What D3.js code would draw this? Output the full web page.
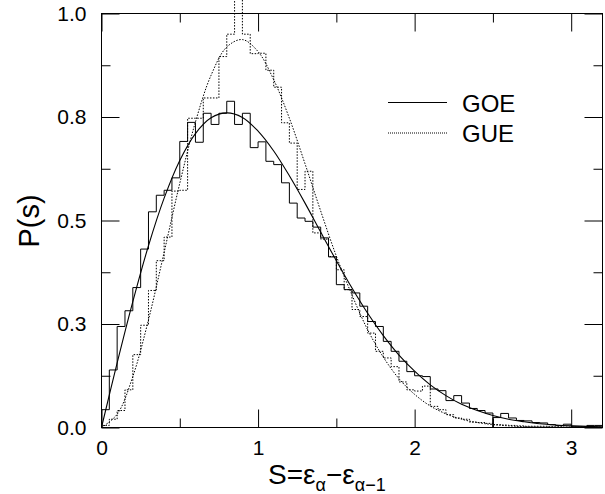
<!DOCTYPE html>
<html>
<head>
<meta charset="utf-8">
<script src="https://cdn.jsdelivr.net/npm/d3@7"></script>
<style>
  body { margin: 0; background: #fff; }
  svg { display: block; }
  text { font-family: 'Liberation Sans', Arial, Helvetica, sans-serif; fill: #000; }
</style>
</head>
<body>
<div id="chart"></div>
<script>
// histogram bins of width 0.05 from s = 0 to 3.2
var binWidth = 0.05;
var goeHist = [
  0.043, 0.139, 0.244, 0.282, 0.338, 0.431, 0.521, 0.561, 0.573, 0.603,
  0.691, 0.737, 0.689, 0.759, 0.732, 0.759, 0.788, 0.732, 0.759, 0.676,
  0.690, 0.643, 0.635, 0.591, 0.542, 0.506, 0.498, 0.484, 0.458, 0.412,
  0.345, 0.333, 0.325, 0.293, 0.256, 0.244, 0.208, 0.184, 0.160, 0.135,
  0.125, 0.123, 0.093, 0.089, 0.065, 0.077, 0.059, 0.046, 0.041, 0.035,
  0.024, 0.034, 0.023, 0.017, 0.016, 0.012, 0.011, 0.007, 0.005, 0.008,
  0.003, 0.003, 0.005, 0.005
];
var gueHist = [
  0.005, 0.020, 0.041, 0.091, 0.176, 0.247, 0.331, 0.403, 0.460, 0.571,
  0.573, 0.747, 0.747, 0.796, 0.796, 0.896, 0.950, 1.060, 0.950, 0.903,
  0.904, 0.863, 0.822, 0.736, 0.687, 0.575, 0.619, 0.470, 0.455, 0.413,
  0.381, 0.333, 0.285, 0.268, 0.228, 0.184, 0.168, 0.147, 0.110, 0.091,
  0.088, 0.100, 0.051, 0.043, 0.031, 0.023, 0.020, 0.013, 0.012, 0.010,
  0.007, 0.006, 0.005, 0.004, 0.003, 0.003, 0.003, 0.002, 0.002, 0.001,
  0.001, 0.001, 0.001, 0.001
];
// the GOE outline is drawn in two pieces, split at bin 50 (s = 2.5)
var goeBreaks = [0, 50, 64];
var gueBreaks = [0, 64];

// smooth curves
var curveS = [
  0, 0.1, 0.2, 0.3, 0.4, 0.5, 0.6, 0.7, 0.8, 0.9, 1.0, 1.1, 1.2, 1.3, 1.4, 1.5, 1.6,
  1.7, 1.8, 1.9, 2.0, 2.1, 2.2, 2.3, 2.4, 2.5, 2.6, 2.7, 2.8, 2.9, 3.0, 3.1, 3.2
];
var goeCurve = [
  0, 0.156, 0.304, 0.439, 0.554, 0.645, 0.710, 0.748, 0.760, 0.749, 0.716, 0.668,
  0.608, 0.542, 0.472, 0.403, 0.337, 0.276, 0.222, 0.175, 0.136, 0.103, 0.077,
  0.056, 0.041, 0.029, 0.020, 0.014, 0.009, 0.006, 0.004, 0.0025, 0.0015
];
var gueCurve = [
  0, 0.032, 0.123, 0.260, 0.423, 0.590, 0.738, 0.851, 0.919, 0.937, 0.908, 0.840,
  0.747, 0.637, 0.523, 0.414, 0.320, 0.236, 0.170, 0.118, 0.080, 0.052, 0.033,
  0.020, 0.012, 0.007, 0.004, 0.002, 0.001, 0.0006, 0.0003, 0.0001, 0.0001
];

var xMajor = [0, 1, 2, 3];
var xMinor = [0.5, 1.5, 2.5];
var yMajor = [0, 0.25, 0.5, 0.75, 1.0];
var yLabels = ['0.0', '0.3', '0.5', '0.8', '1.0'];
var yMinor = [0.125, 0.375, 0.625, 0.875];
var legendNames = ['GOE', 'GUE'];

var chartWidth = 605;
var chartHeight = 494;
var plotLeft = 101.5, plotRight = 602.5, plotTop = 13.5, plotBottom = 427.5;
var dotted = '1.5,1.5';

var svg = d3.select('#chart')
    .append('svg')
    .attr('width', chartWidth)
    .attr('height', chartHeight);

var scaleX = d3.scaleLinear().domain([0, 3.2]).range([plotLeft, plotRight]);
var scaleY = d3.scaleLinear().domain([0, 1]).range([plotBottom, plotTop]);

// Histogram outlines
function stepPoints(hist, from, to) {
  var pts = [[from * binWidth, 0]];
  for (var i = from; i < to; i++) {
    pts.push([i * binWidth, hist[i]]);
  }
  pts.push([to * binWidth, hist[to - 1]]);
  pts.push([to * binWidth, 0]);
  return pts;
}

var stepLine = d3.line()
    .x(function(d) { return scaleX(d[0]); })
    .y(function(d) { return scaleY(d[1]); })
    .curve(d3.curveStepAfter);

function drawHist(hist, breaks, dash) {
  for (var b = 0; b < breaks.length - 1; b++) {
    svg.append('path')
        .attr('d', stepLine(stepPoints(hist, breaks[b], breaks[b + 1])))
        .attr('fill', 'none')
        .attr('stroke', '#000')
        .attr('stroke-width', 1)
        .attr('stroke-dasharray', dash);
  }
}
drawHist(gueHist, gueBreaks, dotted);
drawHist(goeHist, goeBreaks, null);

// Curves
var smoothLine = d3.line()
    .x(function(d) { return scaleX(d[0]); })
    .y(function(d) { return scaleY(d[1]); })
    .curve(d3.curveCatmullRom);

svg.append('path')
    .attr('d', smoothLine(curveS.map(function(s, i) { return [s, gueCurve[i]]; })))
    .attr('fill', 'none')
    .attr('stroke', '#000')
    .attr('stroke-width', 1)
    .attr('stroke-dasharray', dotted);

svg.append('path')
    .attr('d', smoothLine(curveS.map(function(s, i) { return [s, goeCurve[i]]; })))
    .attr('fill', 'none')
    .attr('stroke', '#000')
    .attr('stroke-width', 1.1);

// Axes (ticks point inward on all four sides)
function styleAxis(g) {
  g.select('.domain').remove();
  g.selectAll('line').attr('stroke', '#000');
  g.selectAll('text')
      .attr('font-family', "'Liberation Sans', Arial, Helvetica, sans-serif")
      .attr('font-size', 21)
      .attr('fill', '#000');
}

svg.append('g')
    .attr('transform', 'translate(0,' + plotBottom + ')')
    .call(d3.axisBottom(scaleX).tickValues(xMajor).tickSize(-18).tickPadding(13)
        .tickFormat(d3.format('d')))
    .call(styleAxis);
svg.append('g')
    .attr('transform', 'translate(0,' + plotBottom + ')')
    .call(d3.axisBottom(scaleX).tickValues(xMinor).tickSize(-9).tickFormat(''))
    .call(styleAxis);
svg.append('g')
    .attr('transform', 'translate(0,' + plotTop + ')')
    .call(d3.axisTop(scaleX).tickValues(xMajor).tickSize(-18).tickFormat(''))
    .call(styleAxis);
svg.append('g')
    .attr('transform', 'translate(0,' + plotTop + ')')
    .call(d3.axisTop(scaleX).tickValues(xMinor).tickSize(-9).tickFormat(''))
    .call(styleAxis);

svg.append('g')
    .attr('transform', 'translate(' + plotLeft + ',0)')
    .call(d3.axisLeft(scaleY).tickValues(yMajor).tickSize(-18).tickPadding(15)
        .tickFormat(function(d, i) { return yLabels[i]; }))
    .call(styleAxis);
svg.append('g')
    .attr('transform', 'translate(' + plotLeft + ',0)')
    .call(d3.axisLeft(scaleY).tickValues(yMinor).tickSize(-9).tickFormat(''))
    .call(styleAxis);
svg.append('g')
    .attr('transform', 'translate(' + plotRight + ',0)')
    .call(d3.axisRight(scaleY).tickValues(yMajor).tickSize(-18).tickFormat(''))
    .call(styleAxis);
svg.append('g')
    .attr('transform', 'translate(' + plotRight + ',0)')
    .call(d3.axisRight(scaleY).tickValues(yMinor).tickSize(-9).tickFormat(''))
    .call(styleAxis);

// Frame
svg.append('rect')
    .attr('x', plotLeft)
    .attr('y', plotTop)
    .attr('width', plotRight - plotLeft)
    .attr('height', plotBottom - plotTop)
    .attr('fill', 'none')
    .attr('stroke', '#000')
    .attr('stroke-width', 1);

// Legend
var legend = svg.append('g').selectAll('g')
    .data(legendNames)
    .enter()
    .append('g')
    .attr('transform', function(d, i) { return 'translate(388,' + (102.5 + i * 30.5) + ')'; });
legend.append('line')
    .attr('x1', 0).attr('x2', 59)
    .attr('stroke', '#000')
    .attr('stroke-width', 1)
    .attr('stroke-dasharray', function(d, i) { return i ? '1,1' : null; });
legend.append('text')
    .attr('x', 74)
    .attr('y', 9)
    .attr('font-size', 24)
    .text(function(d) { return d; });

// Axis titles
svg.append('text')
    .attr('transform', 'translate(39,221) rotate(-90)')
    .attr('text-anchor', 'middle')
    .attr('font-size', 29)
    .text('P(s)');

var xTitle = svg.append('text')
    .attr('x', 268)
    .attr('y', 484)
    .attr('font-size', 28);
xTitle.append('tspan').text('S=ε');
xTitle.append('tspan').attr('dy', 7).attr('font-size', 18).text('α');
xTitle.append('tspan').attr('dy', -7).text('−ε');
xTitle.append('tspan').attr('dy', 7).attr('font-size', 18).text('α−1');
</script>
</body>
</html>
